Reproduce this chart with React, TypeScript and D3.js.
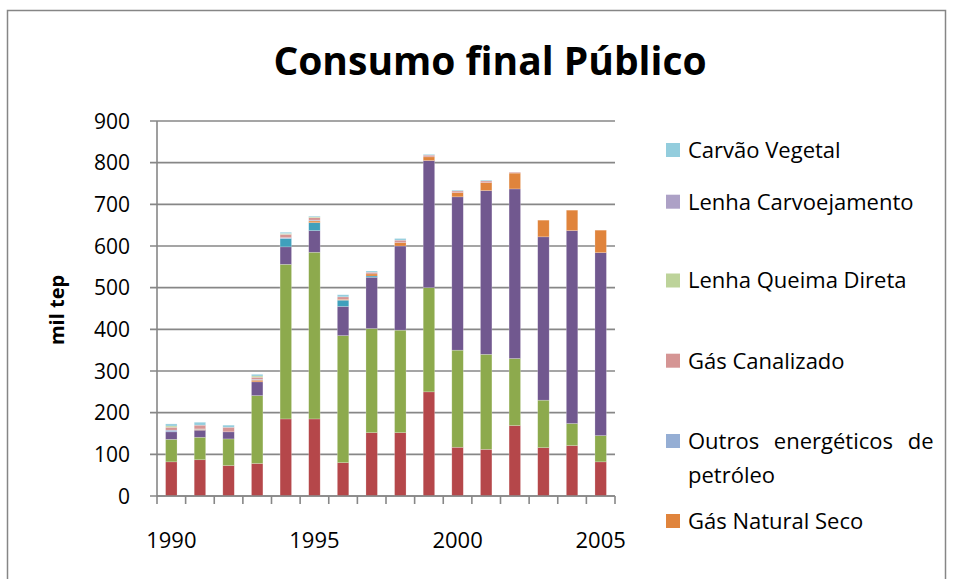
import React from "react";
import * as d3 from "d3";

const years = ["1990","1991","1992","1993","1994","1995","1996","1997","1998","1999","2000","2001","2002","2003","2004","2005"];
const xLabels = ["1990","1995","2000","2005"];
const yTicks = [0,100,200,300,400,500,600,700,800,900];

// stack order bottom -> top
const serieA = [82,87,73,78,185,185,80,152,152,250,117,112,169,116,121,82];
const serieB = [54,54,64,163,371,400,305,250,246,250,233,228,161,114,53,63];
const serieC = [18,17,17,33,42,52,70,123,202,305,368,393,407,392,463,439];
const serieD = [0,0,0,0,20,19,15,3,0,0,0,0,0,0,0,0];
const gasNaturalSeco = [0,2,0,4,0,4,2,5,8,9,10,19,38,40,49,54];
const outrosPetroleo = [4,1,0,2,2,2,0,0,0,0,0,0,0,0,0,0];
const gasCanalizado = [7,9,11,5,8,6,6,4,6,4,4,4,2,0,0,0];
const lenhaQueimaDireta = [3,0,0,3,2,2,0,0,0,0,0,0,0,0,0,0];
const lenhaCarvoejamento = [0,0,0,0,0,0,0,0,0,0,0,0,0,0,0,0];
const carvaoVegetal = [5,7,5,4,3,2,5,3,4,2,2,2,0,0,0,0];

const seriesKeys = ["A","B","C","D","Gás Natural Seco","Outros energéticos de petróleo","Gás Canalizado","Lenha Queima Direta","Lenha Carvoejamento","Carvão Vegetal"];
const seriesValues = [serieA,serieB,serieC,serieD,gasNaturalSeco,outrosPetroleo,gasCanalizado,lenhaQueimaDireta,lenhaCarvoejamento,carvaoVegetal];
const seriesColors = ["#B5474A","#8DAA4D","#71588F","#3FA0BC","#E0843C","#95AED4","#D59594","#BDD39A","#ADA1C6","#93CDDD"];

const legendItems = ["Carvão Vegetal","Lenha Carvoejamento","Lenha Queima Direta","Gás Canalizado","Outros energéticos de petróleo","Gás Natural Seco"];
const legendYs = [150,201.7,280.5,360.7,441,521];

const FONT = "'Open Sans', 'Noto Sans', sans-serif";

export default function App() {
  const left = 157, right = 615, top = 121, bottom = 496;
  const x = d3.scaleBand<string>().domain(years).range([left, right]).paddingInner(0).paddingOuter(0);
  const y = d3.scaleLinear().domain([0, 900]).range([bottom, top]);
  const barW = x.step() / 2.5;

  const rows = years.map((yr, i) => {
    const r: any = { year: yr };
    seriesKeys.forEach((k, j) => (r[k] = seriesValues[j][i]));
    return r;
  });
  const stacked = d3.stack<any>().keys(seriesKeys)(rows);
  const colorOf = (k: string) => seriesColors[seriesKeys.indexOf(k)];

  const boundaries = years.map((yr) => x(yr) as number).concat([right]);

  return (
    <svg width={953} height={579} style={{ position: "absolute", left: 0, top: 0, background: "#fff" }} fontFamily={FONT}>
      <rect x={7.5} y={10.5} width={938} height={620} fill="#fff" stroke="#868686" strokeWidth={1.5} />
      <text x={490} y={75} textAnchor="middle" fontSize={39} fontWeight={700} fill="#000">Consumo final Público</text>

      {yTicks.map((t) => (
        <g key={t}>
          <line x1={left - 7} x2={right} y1={y(t)} y2={y(t)} stroke="#878787" strokeWidth={1.6} />
          <text x={130} y={y(t)} dy="0.36em" textAnchor="end" fontSize={21} fill="#000">{t}</text>
        </g>
      ))}

      {stacked.map((layer) => (
        <g key={layer.key} fill={colorOf(layer.key)}>
          {layer.map((d, i) => {
            const h = y(d[0]) - y(d[1]);
            if (h <= 0) return null;
            return (
              <rect key={i} x={(x(years[i]) as number) + (x.step() - barW) / 2} y={y(d[1])} width={barW} height={h}
                stroke="rgba(255,255,255,0.35)" strokeWidth={0.6} />
            );
          })}
        </g>
      ))}

      <line x1={left} x2={left} y1={top} y2={bottom} stroke="#878787" strokeWidth={1.6} />
      <line x1={left} x2={right} y1={bottom} y2={bottom} stroke="#878787" strokeWidth={1.6} />
      {boundaries.map((bx, i) => (
        <line key={i} x1={bx} x2={bx} y1={bottom} y2={bottom + 8} stroke="#878787" strokeWidth={1.6} />
      ))}
      {xLabels.map((l) => (
        <text key={l} x={(x(l) as number) + x.step() / 2} y={548} textAnchor="middle" fontSize={22} fill="#000">{l}</text>
      ))}

      <text transform={`translate(64,310) rotate(-90)`} textAnchor="middle" fontSize={20} fontWeight={700} fill="#000">mil tep</text>

      {legendItems.map((name, i) => {
        const cy = legendYs[i];
        const color = colorOf(name);
        const isOutros = name.startsWith("Outros");
        return (
          <g key={name}>
            <rect x={666} y={cy - 7} width={14} height={14} fill={color} />
            {isOutros ? (
              <>
                <text x={688} y={cy} dy="0.36em" fontSize={22} fill="#000" wordSpacing={9}>Outros energéticos de</text>
                <text x={688} y={cy + 34} dy="0.36em" fontSize={22} fill="#000">petróleo</text>
              </>
            ) : (
              <text x={688} y={cy} dy="0.36em" fontSize={22} fill="#000">{name}</text>
            )}
          </g>
        );
      })}
    </svg>
  );
}
